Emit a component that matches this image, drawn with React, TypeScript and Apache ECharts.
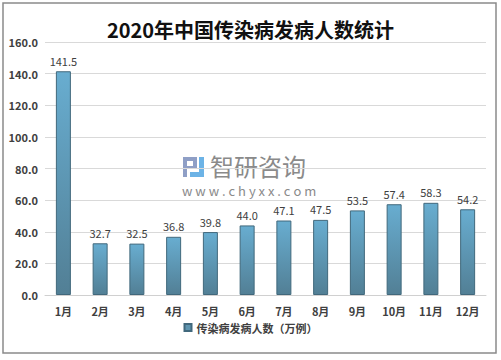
import React, { useEffect, useRef } from "react";
import * as echarts from "echarts";

const categories = ["1月", "2月", "3月", "4月", "5月", "6月", "7月", "8月", "9月", "10月", "11月", "12月"];
const values = [141.5, 32.7, 32.5, 36.8, 39.8, 44.0, 47.1, 47.5, 53.5, 57.4, 58.3, 54.2];
const seriesName = "传染病发病人数（万例）";
const titleText = "2020年中国传染病发病人数统计";

const FONT = "'Noto Sans CJK SC', 'Microsoft YaHei', sans-serif";

export default function App() {
  const ref = useRef<HTMLDivElement>(null);
  useEffect(() => {
    if (!ref.current) return;
    const chart = echarts.init(ref.current, undefined, { renderer: "svg" });
    const barColor = new echarts.graphic.LinearGradient(0, 0, 0, 1, [
      { offset: 0, color: "#68add0" },
      { offset: 1, color: "#527f95" },
    ]);
    chart.setOption({
      animation: false,
      backgroundColor: "#ffffff",
      title: {
        text: titleText,
        left: "center",
        top: 14,
        textStyle: { fontFamily: FONT, fontSize: 20, fontWeight: "bold", color: "#111" },
      },
      grid: { left: 45, right: 15, top: 42, bottom: 65, containLabel: false },
      legend: {
        top: 321,
        left: "center",
        itemWidth: 7,
        itemHeight: 7,
        itemGap: 4,
        icon: "rect",
        padding: 0,
        textStyle: { fontFamily: FONT, fontSize: 11, fontWeight: "bold", color: "#404040", lineHeight: 13 },
        data: [{ name: seriesName, itemStyle: { color: "#5f95b0" } }],
      },
      xAxis: {
        type: "category",
        data: categories,
        axisTick: { show: false },
        axisLine: { lineStyle: { color: "#d0d0d0" } },
        axisLabel: { fontFamily: FONT, fontSize: 11, fontWeight: "bold", color: "#404040", margin: 9, lineHeight: 13 },
      },
      yAxis: {
        type: "value",
        min: 0,
        max: 160,
        interval: 20,
        axisLine: { show: false },
        axisTick: { show: false },
        splitLine: { lineStyle: { color: "#d9d9d9" } },
        axisLabel: {
          fontFamily: FONT,
          fontSize: 11,
          fontWeight: "bold",
          color: "#404040",
          margin: 7,
          formatter: (v: number) => v.toFixed(1),
        },
      },
      series: [
        {
          name: seriesName,
          type: "bar",
          data: values,
          barWidth: 15,
          itemStyle: { color: barColor, borderColor: "#41687c", borderWidth: 1 },
          label: {
            show: true,
            position: "top",
            distance: 5,
            fontFamily: FONT,
            fontSize: 11,
            color: "#404040",
            formatter: (p: any) => Number(p.value).toFixed(1),
          },
        },
      ],
      graphic: [
        {
          type: "rect",
          shape: { x: 3, y: 3, width: 493, height: 350 },
          style: { fill: "none", stroke: "#8a8a8a", lineWidth: 1.5 },
          silent: true,
        },
        {
          type: "group",
          left: 183,
          top: 157,
          silent: true,
          children: [
            { type: "rect", shape: { x: 0, y: 0, width: 14, height: 4 }, style: { fill: "#8f9fc6" } },
            { type: "rect", shape: { x: 0, y: 0, width: 4, height: 20 }, style: { fill: "#8f9fc6" } },
            { type: "rect", shape: { x: 10, y: 0, width: 4, height: 12 }, style: { fill: "#8f9fc6" } },
            { type: "rect", shape: { x: 0, y: 9, width: 14, height: 3 }, style: { fill: "#8f9fc6" } },
            { type: "rect", shape: { x: 16, y: 0, width: 5, height: 20 }, style: { fill: "#6cb3e6" } },
            { type: "rect", shape: { x: 7, y: 15, width: 14, height: 5 }, style: { fill: "#6cb3e6" } },
          ],
        },
        {
          type: "text",
          x: 210,
          y: 165,
          silent: true,
          style: {
            text: "智研咨询",
            fontFamily: FONT,
            fontSize: 24,
            lineHeight: 22,
            fill: "#8a8a8a",
            verticalAlign: "middle",
            align: "left",
          },
        },
        {
          type: "text",
          x: 182,
          y: 190,
          silent: true,
          style: {
            text: "w w w . c h y x x . c o m",
            fontFamily: FONT,
            fontSize: 13,
            lineHeight: 13,
            fill: "#8a8a8a",
            verticalAlign: "middle",
            align: "left",
          },
        },
      ],
    });
    return () => chart.dispose();
  }, []);
  return <div ref={ref} style={{ position: "fixed", left: 0, top: 0, width: 501, height: 360 }} />;
}
